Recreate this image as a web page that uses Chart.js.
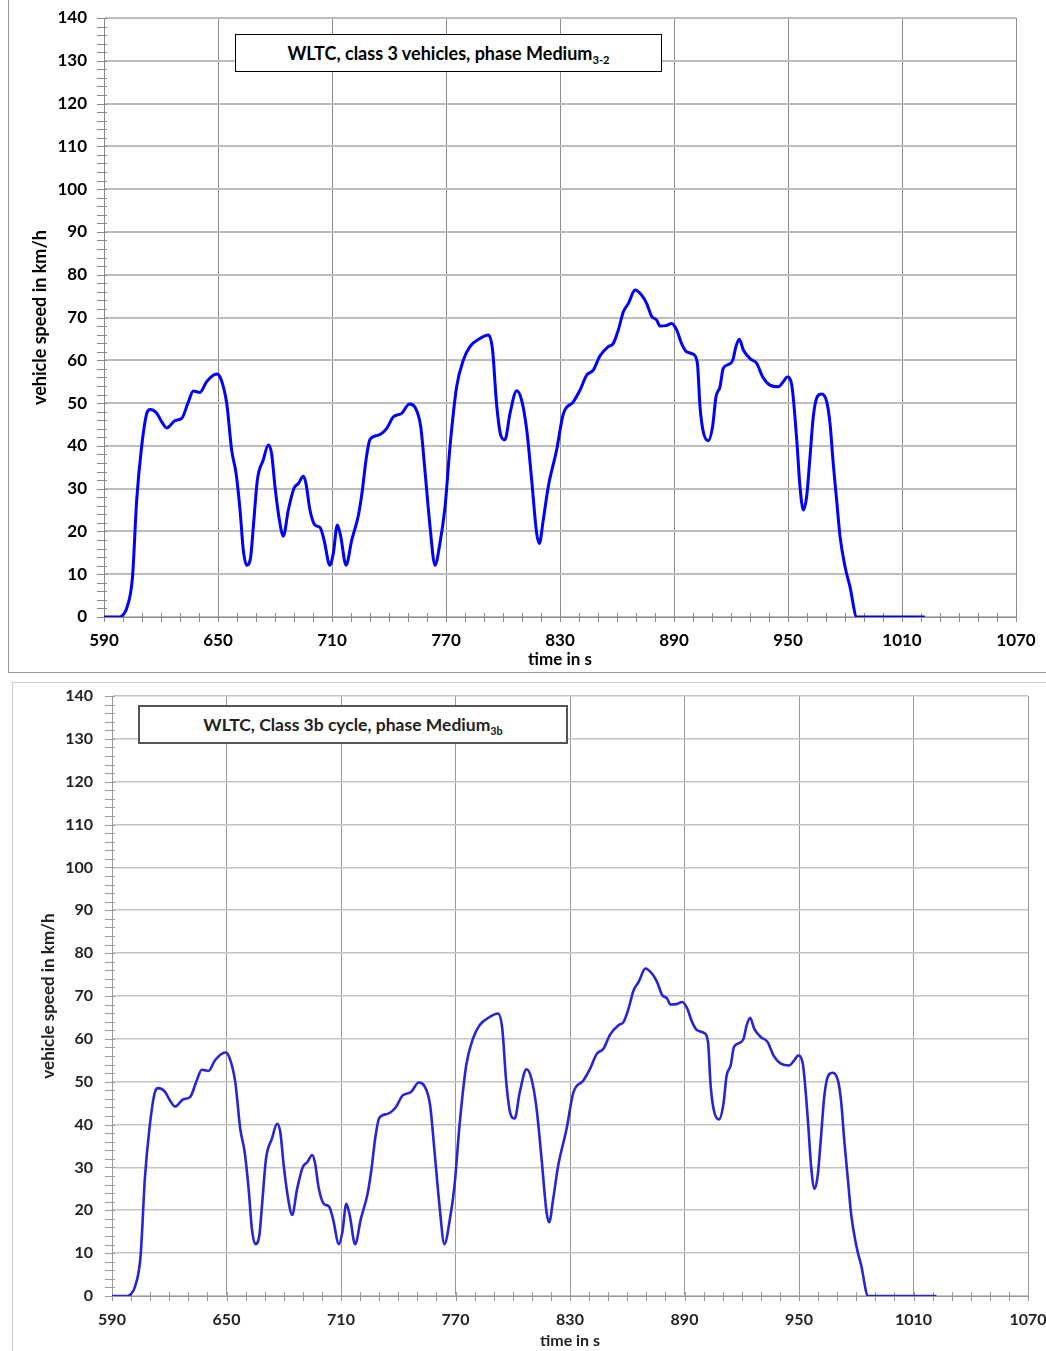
<!DOCTYPE html>
<html>
<head>
<meta charset="utf-8">
<script src="https://cdn.jsdelivr.net/npm/chart.js@4.4.1/dist/chart.umd.min.js"></script>
<style>
  body { margin: 0; width: 1046px; height: 1351px; overflow: hidden; background: #fff; position: relative; font-family: Lato, "Open Sans", sans-serif; }
  .wrap { position: absolute; left: 0; }
  .frame { position: absolute; pointer-events: none; }
  .tbox { position: absolute; background: #fff; text-align: center; font-weight: bold; white-space: nowrap; }
  .tbox sub { font-size: 0.62em; vertical-align: -0.35em; }
</style>
</head>
<body>

<div class="wrap" style="top:0;width:1046px;height:675px">
  <canvas id="chartTop" width="1046" height="675"></canvas>
</div>
<div class="frame" style="left:8px;top:-2px;width:1040px;height:674px;border-left:1px solid #999;border-bottom:1px solid #999"></div>
<div class="tbox" style="left:235px;top:34px;width:425px;height:36px;line-height:36px;border:1px solid #000;font-size:18px;color:#000">WLTC, class 3 vehicles, phase Medium<sub>3-2</sub></div>

<div class="wrap" style="top:678px;width:1060px;height:673px">
  <canvas id="chartBottom" width="1060" height="673"></canvas>
</div>
<div class="frame" style="left:12px;top:682px;width:1060px;height:700px;border-left:1px solid #ccc;border-top:1px solid #ccc"></div>
<div class="tbox" style="left:138px;top:705px;width:426px;height:35px;line-height:35px;border:2px solid #555;font-size:17.5px;color:#222">WLTC, Class 3b cycle, phase Medium<sub>3b</sub></div>

<script>
// time in s and vehicle speed in km/h
const timeS = [590, 598, 600, 602, 605, 607.2, 609.8, 612.5, 614.2, 617.7,
    620.4, 623, 627.4, 630.9, 634.4, 637, 640.5, 644, 649.3, 651.4,
    654.6, 657.2, 659.5, 661.6, 663.3, 665.1, 667.2, 668.6, 670.7, 673.8,
    676.5, 678.2, 680, 682.3, 684.4, 687, 690, 692.3, 694.9, 696.3,
    698.4, 701, 703.7, 705.8, 708.9, 710.7, 712.8, 714.6, 717.4, 720.4,
    723.9, 726, 727.9, 730, 734.4, 738.8, 742.3, 746.7, 750.7, 753.7,
    756.7, 758.9, 761.6, 764.2, 766.8, 769.5, 772.1, 775.6, 779.1, 782.6,
    787.9, 792.3, 794.5, 796.6, 798.8, 801, 803.7, 807.2, 809.8, 812.5,
    815.1, 817.7, 819.1, 821.2, 823.8, 828.2, 831.7, 837, 840.5, 844,
    847.5, 851, 855.4, 858, 860.7, 863.3, 866, 869.5, 873, 875.6,
    878.2, 880.9, 882.6, 885.8, 888.8, 891.4, 894, 896.6, 900.2, 902.3,
    903.7, 905.4, 908.1, 910.3, 912.1, 914.2, 915.9, 918.6, 920.9, 922.6,
    924.4, 926.5, 930, 933.5, 936.7, 940.5, 944.9, 947.5, 949.6, 951.9,
    954.6, 956.3, 958.1, 959.8, 961.6, 963.3, 965.4, 967.7, 970.4, 972.1,
    973.8, 975.6, 977.4, 980, 982.6, 986.2, 1022];
const speedKmh = [0, 0, 0.5, 2.1, 9.4, 27.3, 39.8, 47.6, 48.5, 47.7,
    45.6, 44.2, 45.9, 46.4, 50.3, 52.8, 52.5, 55, 56.8, 55.8,
    49.9, 39, 33.6, 25, 15.7, 12.1, 14.1, 21.1, 32, 36.7,
    40.2, 38.2, 30.4, 22.7, 18.9, 25, 30.1, 31.2, 32.9, 31.2,
    25, 21.5, 20.9, 18, 12.1, 14.9, 21.5, 18.8, 12.1, 18,
    23.8, 29.7, 36.7, 41.5, 42.5, 44.1, 46.8, 47.6, 49.8, 49,
    44.5, 34.3, 21.1, 12.1, 17.2, 25.8, 39.8, 53.8, 60, 63.2,
    65.1, 65.9, 62.4, 49.9, 42.5, 41.4, 47.6, 52.9, 50.7, 43.7,
    32, 19.6, 17.2, 22.7, 30.4, 39, 47.4, 50.3, 53, 56.5,
    57.7, 61, 63.2, 63.9, 67.1, 71.3, 73.3, 76.4, 75.2, 73.3,
    70.3, 69.4, 68, 68.1, 68.6, 67.1, 63.9, 62, 61.4, 59.3,
    49.1, 43.3, 41.2, 44.5, 51.5, 53.8, 58.1, 59, 60, 63.2,
    64.9, 62.4, 60.4, 59.3, 56.1, 54.2, 53.8, 55, 56.1, 54.4,
    41.4, 30.5, 25, 28.1, 37.5, 46.8, 51.5, 52.1, 50.3, 45.3,
    35.9, 27.3, 18.8, 11.8, 7.1, 0, 0];

const xMin = 590, xMax = 1070, xStep = 60, xMinor = 10;
const yMin = 0, yMax = 140, yStep = 10, yMinor = 2;

const points = timeS.map((t, i) => ({ x: t, y: speedKmh[i] }));

// small tick marks on both axes
const minorTicks = {
    id: 'minorTicks',
    beforeDatasetsDraw(chart, args, opts) {
        const ctx = chart.ctx;
        const x = chart.scales.x, y = chart.scales.y;
        ctx.save();
        ctx.strokeStyle = opts.color;
        ctx.lineWidth = 1;
        ctx.beginPath();
        for (let t = xMin; t <= xMax; t += xMinor) {
            const px = Math.round(x.getPixelForValue(t)) + 0.5;
            ctx.moveTo(px, y.bottom - 4);
            ctx.lineTo(px, y.bottom + 5);
        }
        for (let v = yMin; v <= yMax; v += yMinor) {
            const py = Math.round(y.getPixelForValue(v)) + 0.5;
            ctx.moveTo(x.left - 7, py);
            ctx.lineTo(x.left + 3, py);
        }
        ctx.stroke();
        ctx.restore();
    }
};

function noPad(sc) {
    sc.paddingTop = 0;
    sc.paddingBottom = 0;
    sc.paddingLeft = 0;
    sc.paddingRight = 0;
}

function makeChart(id, s) {
    return new Chart(document.getElementById(id), {
        type: 'line',
        data: {
            datasets: [{
                data: points,
                borderColor: s.line,
                borderWidth: s.lineWidth,
                pointRadius: 0,
                cubicInterpolationMode: 'monotone',
                fill: false
            }]
        },
        options: {
            responsive: false,
            animation: false,
            events: [],
            layout: { padding: { top: s.top, right: s.right, left: 0, bottom: 0 } },
            plugins: {
                legend: { display: false },
                tooltip: { enabled: false },
                minorTicks: { color: s.axis }
            },
            scales: {
                x: {
                    type: 'linear',
                    min: xMin,
                    max: xMax,
                    afterFit: sc => { sc.height = s.xHeight; noPad(sc); },
                    border: { color: s.axis, width: 1 },
                    grid: { color: s.vGrid, lineWidth: 1, drawTicks: false },
                    ticks: {
                        stepSize: xStep,
                        padding: s.xPad,
                        color: s.text,
                        maxRotation: 0,
                        callback: v => String(v),
                        font: { family: 'Lato', weight: 'bold', size: s.tickSize }
                    },
                    title: {
                        display: true,
                        text: 'time in s',
                        color: s.text,
                        padding: { top: 0, bottom: s.xTitlePad },
                        font: { family: 'Lato', weight: 'bold', size: s.tickSize }
                    }
                },
                y: {
                    min: yMin,
                    max: yMax,
                    afterFit: sc => { sc.width = s.yWidth; noPad(sc); },
                    border: { color: s.axis, width: 1 },
                    grid: { color: s.hGrid, lineWidth: s.hGridWidth, drawTicks: false },
                    ticks: {
                        stepSize: yStep,
                        padding: s.yPad,
                        color: s.text,
                        callback: v => String(v),
                        font: { family: 'Lato', weight: 'bold', size: s.tickSize }
                    },
                    title: {
                        display: true,
                        text: 'vehicle speed in km/h',
                        color: s.text,
                        padding: { top: s.yTitlePad, bottom: 0 },
                        font: { family: 'Lato', weight: 'bold', size: s.yTitleSize }
                    }
                }
            }
        },
        plugins: [minorTicks]
    });
}

makeChart('chartTop', {
    line: '#0000ff', lineWidth: 3,
    top: 18, right: 30, xHeight: 58, yWidth: 104,
    axis: '#8a8a8a', vGrid: '#8c8c8c', hGrid: '#bdbdbd', hGridWidth: 2,
    text: '#000', tickSize: 17, xPad: 13, yPad: 17,
    xTitlePad: 5, yTitlePad: 29, yTitleSize: 18
});

makeChart('chartBottom', {
    line: '#2626d4', lineWidth: 2.6,
    top: 18, right: 32, xHeight: 55, yWidth: 112,
    axis: '#9a9a9a', vGrid: '#999999', hGrid: '#c4c4c4', hGridWidth: 1.6,
    text: '#222', tickSize: 16, xPad: 14, yPad: 19,
    xTitlePad: 1, yTitlePad: 38, yTitleSize: 17
});
</script>
</body>
</html>
